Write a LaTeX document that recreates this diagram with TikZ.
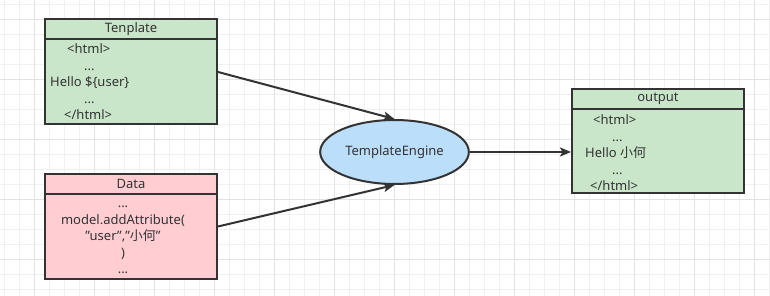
\documentclass[tikz,border=0pt]{standalone}
\usepackage{fontspec}
\setmainfont{Noto Sans}
\newfontfamily\cjk{Noto Sans CJK SC}
\usetikzlibrary{arrows.meta, positioning, shapes.geometric}

\definecolor{linecol}{HTML}{333333}
\definecolor{greenfill}{HTML}{C9E6CA}
\definecolor{pinkfill}{HTML}{FFCDD2}
\definecolor{bluefill}{HTML}{BBDEFB}
\definecolor{minorgrid}{HTML}{F0F0F0}
\definecolor{majorgrid}{HTML}{E2E2E2}
\newcommand{\qt}{\symbol{34}}

\begin{document}
\begin{tikzpicture}[
    x=1pt, y=-1pt,
    font=\fontsize{13}{16.5}\selectfont, text=linecol,
    umlbox/.style={draw=linecol, line width=2pt, minimum width=172pt, minimum height=105pt, inner sep=0pt},
    headbox/.style={draw=linecol, line width=2pt, minimum width=172pt, minimum height=20pt, inner sep=0pt, anchor=north},
    bodytext/.style={inner sep=0pt},
    engine/.style={ellipse, draw=linecol, line width=2pt, fill=bluefill, minimum width=145pt, minimum height=64pt},
    arrow/.style={-{Stealth[length=11pt, width=9pt, inset=2.5pt]}, draw=linecol, line width=2pt}
]
    \useasboundingbox (0,0) rectangle (770,296);
    \fill[white] (0,0) rectangle (770,296);

    % Grid
    \foreach \gx in {4,19,...,769} \draw[minorgrid, line width=0.8pt] (\gx,0) -- (\gx,296);
    \foreach \gy in {4,19,...,289} \draw[minorgrid, line width=0.8pt] (0,\gy) -- (770,\gy);
    \foreach \gx in {34,94,...,754} \draw[majorgrid, line width=0.8pt] (\gx,0) -- (\gx,296);
    \foreach \gy in {19,79,...,259} \draw[majorgrid, line width=0.8pt] (0,\gy) -- (770,\gy);

    % Template box
    \node[umlbox, fill=greenfill] (tpl) at (131,72) {};
    \node[headbox, fill=greenfill] (tplhead) at (tpl.north) {Tenplate};
    \node[bodytext, align=left, anchor=west] (tplbody) at (50,82)
        {\hspace*{17pt}<html>\\\hspace*{34pt}...\\Hello \$\{user\}\\\hspace*{34pt}...\\\hspace*{14pt}</html>};

    % Data box
    \node[umlbox, fill=pinkfill] (data) at (131,226.5) {};
    \node[headbox, fill=pinkfill] (datahead) at (data.north) {Data};
    \node[bodytext, align=center] (databody) at (123,240)
        {...\\model.addAttribute(\\\qt user\qt,\qt{\cjk 小何}\qt\\)\\...};

    % Engine
    \node[engine] (engine) at (394.5,152) {TemplateEngine};

    % Output box
    \node[umlbox, fill=greenfill, minimum height=104.5pt] (out) at (658,141) {};
    \node[headbox, fill=greenfill] (outhead) at (out.north) {output};
    \node[bodytext, align=left, anchor=west] (outbody) at (585,153)
        {\hspace*{8pt}<html>\\\hspace*{27pt}...\\Hello {\cjk 小何}\\\hspace*{27pt}...\\\hspace*{5pt}</html>};

    % Arrows
    \draw[arrow] (tpl.east) -- (engine.north);
    \draw[arrow] (data.east) -- (engine.south);
    \draw[arrow] (engine.east) -- (engine.east -| out.west);
\end{tikzpicture}
\end{document}
